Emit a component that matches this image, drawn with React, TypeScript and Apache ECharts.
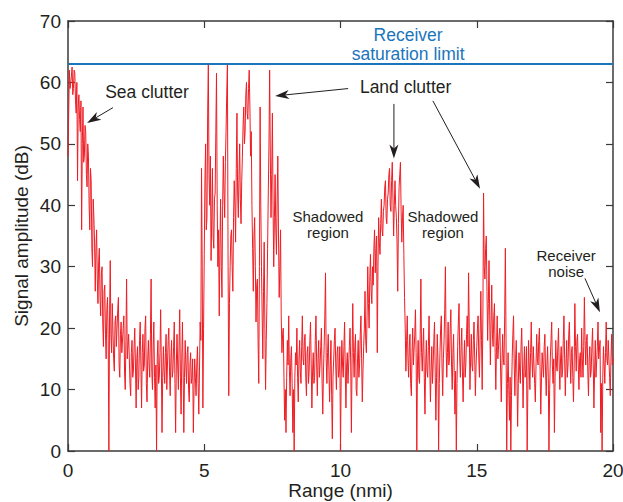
import React, { useEffect, useRef } from "react";
import * as echarts from "echarts";

// Range sampling step (nmi) of the amplitude record
const RANGE_STEP_NMI = 0.025;

// Signal amplitude (dB), 0.000 – 4.975 nmi
const amplitude0to5 = [
  48, 55, 62, 59, 60, 61, 62.5, 58, 59, 62, 61.5, 57, 55, 60, 44, 56, 58, 54, 52, 57,
  36, 50, 56, 47, 48, 53, 52, 45, 43, 50, 48, 40, 36, 46, 44, 33, 30, 41, 38, 34,
  26, 33, 36, 28, 24, 31, 33, 25, 22, 29, 30, 21, 17, 26, 27, 19, 15, 23, 25, 18,
  0, 22, 31, 19, 16, 24, 24, 15, 13, 21, 22, 17, 17, 23, 25, 14, 12, 19, 21, 16,
  16, 20, 22, 13, 10, 18, 28, 15, 15, 19, 19, 11, 9, 16, 18, 12, 13, 17, 20, 14,
  7, 15, 17, 10, 12, 18, 21, 14, 7, 16, 19, 13, 14, 20, 22, 11, 8, 15, 18, 14,
  12, 19, 28, 13, 10, 17, 21, 12, 7, 14, 0, 15, 18, 11, 12, 16, 23, 14, 3, 12,
  17, 13, 11, 16, 19, 10, 14, 18, 20, 13, 9, 15, 18, 12, 13, 17, 21, 11, 3, 14,
  19, 14, 10, 17, 23, 12, 6, 15, 21, 13, 3, 12, 18, 14, 11, 16, 17, 10, 8, 14,
  16, 11, 12, 15, 3, 10, 15, 12, 9, 14, 17, 11, 6, 13, 21, 18, 46, 30, 7, 20,
];
// 5.000 – 9.975 nmi
const amplitude5to10 = [
  32, 44, 50, 36, 38, 55, 63, 45, 40, 48, 31, 38, 46, 35, 33, 41, 42, 52, 61.5, 40,
  30, 36, 22, 33, 41, 30, 25, 40, 48, 42, 38, 47, 52, 58, 63, 30, 9, 24, 30, 35,
  36, 30, 26, 38, 44, 40, 34, 46, 55, 42, 38, 45, 50, 41, 37, 44, 48, 53, 56, 50,
  52, 58, 60, 55, 54, 59, 62, 56, 48, 52, 40, 33, 26, 35, 38, 30, 21, 27, 28, 18,
  11, 30, 56, 40, 30, 22, 15, 26, 34, 20, 10, 18, 24, 33, 42, 50, 62, 48, 38, 45,
  55, 40, 30, 38, 45, 36, 32, 41, 48, 35, 25, 30, 36, 22, 16, 19, 20, 12, 5, 10,
  3, 12, 18, 14, 22, 13, 9, 15, 17, 11, 3, 10, 0, 12, 16, 14, 20, 12, 8, 15,
  18, 13, 11, 17, 22, 15, 14, 18, 19, 12, 9, 16, 17, 11, 13, 18, 21, 14, 7, 13,
  16, 11, 12, 18, 22, 14, 9, 15, 18, 12, 14, 17, 20, 11, 6, 13, 17, 22, 29, 15,
  11, 16, 19, 13, 8, 14, 18, 9, 2, 12, 15, 18, 20, 14, 10, 16, 17, 12, 13, 17,
];
// 10.000 – 14.975 nmi
const amplitude10to15 = [
  0, 12, 18, 14, 12, 17, 21, 13, 7, 14, 16, 11, 11, 17, 20, 14, 3, 15, 24, 16,
  12, 17, 19, 10, 9, 15, 18, 12, 14, 19, 22, 15, 8, 13, 17, 20, 26, 18, 16, 22,
  30, 24, 20, 28, 32, 26, 24, 30, 27, 33, 36, 29, 33, 35, 16, 30, 38, 34, 32, 37,
  41, 36, 35, 39, 40, 43, 44, 38, 37, 41, 42, 45, 46, 40, 39, 44, 47, 41, 35, 40,
  44, 40, 38, 34, 26, 37, 43, 45, 47, 39, 34, 38, 40, 32, 25, 20, 13, 18, 22, 15,
  12, 17, 19, 11, 9, 16, 20, 14, 14, 19, 23, 16, 0, 14, 18, 12, 11, 19, 28, 16,
  13, 17, 20, 12, 6, 14, 18, 13, 12, 17, 22, 14, 8, 13, 17, 11, 14, 18, 21, 13,
  5, 12, 19, 15, 0, 11, 16, 20, 22, 14, 9, 15, 18, 23, 30, 17, 12, 16, 21, 14,
  15, 20, 23, 14, 10, 16, 19, 12, 6, 13, 0, 11, 17, 21, 24, 15, 12, 17, 20, 13,
  8, 14, 18, 12, 14, 19, 22, 17, 29, 20, 10, 15, 19, 14, 13, 18, 21, 15, 9, 14,
];
// 15.000 – 20.000 nmi
const amplitude15to20 = [
  17, 20, 22, 15, 12, 19, 26, 18, 10, 22, 42, 30, 28, 33, 35, 26, 18, 24, 31, 22,
  14, 21, 27, 19, 17, 22, 24, 16, 10, 17, 22, 15, 15, 19, 20, 13, 8, 14, 19, 15,
  14, 22, 33, 18, 0, 11, 16, 10, 5, 12, 0, 9, 15, 19, 22, 14, 9, 15, 18, 12,
  4, 11, 16, 13, 11, 17, 20, 14, 7, 13, 17, 12, 13, 17, 0, 10, 18, 14, 10, 16,
  21, 15, 12, 17, 17, 11, 8, 14, 19, 15, 14, 18, 20, 13, 6, 12, 16, 14, 12, 17,
  19, 13, 9, 14, 17, 12, 0, 10, 15, 18, 21, 14, 11, 15, 3, 12, 18, 14, 13, 17,
  20, 14, 10, 15, 17, 12, 13, 18, 22, 15, 9, 14, 18, 12, 14, 19, 21, 15, 11, 16,
  17, 12, 8, 14, 24, 17, 13, 18, 19, 14, 10, 15, 16, 12, 20, 15, 12, 17, 25, 18,
  14, 18, 19, 13, 9, 15, 17, 12, 13, 17, 20, 14, 7, 13, 18, 12, 12, 17, 21, 15,
  15, 18, 3, 11, 0, 12, 17, 14, 11, 16, 21, 15, 14, 18, 18, 12, 9, 15, 19, 14, 15,
];

const SATURATION_LIMIT_DB = 63;
const X_MIN = 0;
const X_MAX = 20;
const X_INTERVAL = 5;
const Y_MIN = 0;
const Y_MAX = 70;
const Y_INTERVAL = 10;

// Annotation labels (anchored in data coordinates)
const labelTexts = [
  { text: "Sea clutter", at: [2.9, 58.5], size: 17.5, color: "#231f20" },
  { text: "Land clutter", at: [12.39, 59.2], size: 17.5, color: "#231f20" },
  { text: "Receiver\nsaturation limit", at: [12.48, 66.2], size: 17.5, color: "#1b75bc" },
  { text: "Shadowed\nregion", at: [9.54, 36.9], size: 15, color: "#231f20" },
  { text: "Shadowed\nregion", at: [13.76, 36.9], size: 15, color: "#231f20" },
  { text: "Receiver\nnoise", at: [18.28, 30.6], size: 15, color: "#231f20" },
];

// Arrows: [tail, tip] in data coordinates
const arrowList = [
  [[1.65, 55.9], [0.7, 53.4]],
  [[10.28, 59.0], [7.6, 57.8]],
  [[11.96, 56.5], [11.96, 47.6]],
  [[13.39, 57.0], [15.12, 42.7]],
  [[18.97, 28.1], [19.52, 22.6]],
];

const FONT = "'Liberation Sans', Arial, Helvetica, sans-serif";
const AXIS_COLOR = "#3a3a3a";
const W = 623;
const H = 502;

export default function App() {
  const ref = useRef<HTMLDivElement>(null);

  useEffect(() => {
    if (!ref.current) return;
    document.body.style.margin = "0";
    const chart = echarts.init(ref.current, undefined, { renderer: "svg", width: W, height: H });

    const amplitude = [...amplitude0to5, ...amplitude5to10, ...amplitude10to15, ...amplitude15to20];
    const signalData = amplitude.map((v, i) => [Number((i * RANGE_STEP_NMI).toFixed(3)), v]);

    const baseX = {
      type: "value" as const,
      min: X_MIN,
      max: X_MAX,
      interval: X_INTERVAL,
      splitLine: { show: false },
      axisLine: { show: true, onZero: false, lineStyle: { color: AXIS_COLOR, width: 1.5 } },
      axisTick: { show: true, inside: true, length: 7, lineStyle: { color: AXIS_COLOR, width: 1.2 } },
    };
    const baseY = {
      type: "value" as const,
      min: Y_MIN,
      max: Y_MAX,
      interval: Y_INTERVAL,
      splitLine: { show: false },
      axisLine: { show: true, onZero: false, lineStyle: { color: AXIS_COLOR, width: 1.5 } },
      axisTick: { show: true, inside: true, length: 7, lineStyle: { color: AXIS_COLOR, width: 1.2 } },
    };

    chart.setOption({
      animation: false,
      backgroundColor: "#ffffff",
      grid: {
        left: 68,
        right: 10,
        top: 21,
        bottom: 51,
        containLabel: false,
        outerBoundsMode: "none",
      },
      xAxis: [
        {
          ...baseX,
          position: "bottom",
          axisLabel: { fontSize: 19, color: "#231f20", fontFamily: FONT, margin: 10 },
          name: "Range (nmi)",
          nameLocation: "middle",
          nameGap: 29,
          nameMoveOverlap: false,
          nameTextStyle: { fontSize: 19, lineHeight: 20, color: "#231f20", fontFamily: FONT },
        },
        { ...baseX, position: "top", axisLabel: { show: false } },
      ],
      yAxis: [
        {
          ...baseY,
          position: "left",
          axisLabel: { fontSize: 19, color: "#231f20", fontFamily: FONT, margin: 7 },
          name: "Signal amplitude (dB)",
          nameLocation: "middle",
          nameGap: 37,
          nameMoveOverlap: false,
          nameTextStyle: { fontSize: 19, color: "#231f20", fontFamily: FONT },
        },
        { ...baseY, position: "right", axisLabel: { show: false } },
      ],
      series: [
        {
          type: "line",
          name: "Signal",
          xAxisIndex: 0,
          yAxisIndex: 0,
          data: signalData,
          showSymbol: false,
          symbol: "none",
          lineStyle: { color: "#ee1d24", width: 1 },
          silent: true,
        },
        {
          type: "line",
          name: "Receiver saturation limit",
          xAxisIndex: 0,
          yAxisIndex: 0,
          data: [
            [X_MIN, SATURATION_LIMIT_DB],
            [X_MAX, SATURATION_LIMIT_DB],
          ],
          showSymbol: false,
          symbol: "none",
          lineStyle: { color: "#1b75bc", width: 2 },
          silent: true,
        },
      ],
    });

    const toPx = (p: number[]) => chart.convertToPixel({ gridIndex: 0 }, p) as number[];

    const graphics: any[] = [];
    labelTexts.forEach((l) => {
      const [px, py] = toPx(l.at);
      graphics.push({
        type: "text",
        x: px,
        y: py,
        silent: true,
        style: {
          text: l.text,
          fill: l.color,
          fontSize: l.size,
          fontFamily: FONT,
          textAlign: "center",
          textVerticalAlign: "middle",
          lineHeight: l.size + 1,
        },
      });
    });

    const headLen = 14;
    const headW = 9;
    arrowList.forEach(([tail, tip]) => {
      const [tx, ty] = toPx(tail);
      const [hx, hy] = toPx(tip);
      const dx = hx - tx;
      const dy = hy - ty;
      const len = Math.sqrt(dx * dx + dy * dy) || 1;
      const ux = dx / len;
      const uy = dy / len;
      const nx = -uy;
      const ny = ux;
      const bx = hx - ux * headLen;
      const by = hy - uy * headLen;
      const notchX = hx - ux * headLen * 0.72;
      const notchY = hy - uy * headLen * 0.72;
      graphics.push({
        type: "line",
        silent: true,
        shape: { x1: tx, y1: ty, x2: notchX, y2: notchY },
        style: { stroke: "#231f20", lineWidth: 1 },
      });
      graphics.push({
        type: "polygon",
        silent: true,
        shape: {
          points: [
            [hx, hy],
            [bx + (nx * headW) / 2, by + (ny * headW) / 2],
            [notchX, notchY],
            [bx - (nx * headW) / 2, by - (ny * headW) / 2],
          ],
        },
        style: { fill: "#231f20" },
      });
    });

    chart.setOption({ graphic: graphics });

    return () => {
      chart.dispose();
    };
  }, []);

  return <div ref={ref} style={{ width: W, height: H, overflow: "hidden" }} />;
}
